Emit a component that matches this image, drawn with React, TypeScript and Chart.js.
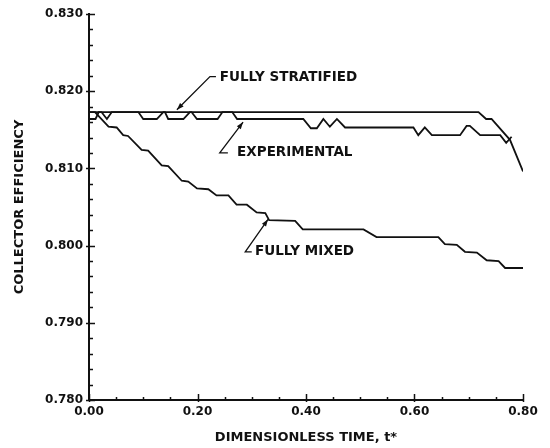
import React, { useEffect, useRef } from "react";
import { Chart, registerables } from "chart.js";

Chart.register(...registerables);

// ---- data ----
const stratifiedT = [0, 0.718, 0.732, 0.742, 0.776, 0.8];
const stratifiedV = [0.8173, 0.8173, 0.8164, 0.8164, 0.8137, 0.8096];

const experimentalT = [
  0, 0.012, 0.018, 0.023, 0.033, 0.042, 0.091, 0.1, 0.125, 0.137, 0.14, 0.146,
  0.174, 0.186, 0.189, 0.199, 0.237, 0.246, 0.264, 0.273, 0.395, 0.409, 0.42,
  0.432, 0.444, 0.457, 0.472, 0.598, 0.607, 0.619, 0.632, 0.684, 0.696, 0.702,
  0.721, 0.758, 0.769, 0.779,
];
const experimentalV = [
  0.8164, 0.8164, 0.8173, 0.8173, 0.8164, 0.8173, 0.8173, 0.8164, 0.8164,
  0.8173, 0.8173, 0.8164, 0.8164, 0.8173, 0.8173, 0.8164, 0.8164, 0.8173,
  0.8173, 0.8164, 0.8164, 0.8152, 0.8152, 0.8164, 0.8154, 0.8164, 0.8153,
  0.8153, 0.8143, 0.8153, 0.8143, 0.8143, 0.8155, 0.8155, 0.8143, 0.8143,
  0.8133, 0.8141,
];

const mixedT = [
  0, 0.011, 0.036, 0.051, 0.063, 0.072, 0.097, 0.109, 0.134, 0.146, 0.171,
  0.183, 0.199, 0.22, 0.235, 0.257, 0.272, 0.291, 0.309, 0.325, 0.332, 0.38,
  0.394, 0.506, 0.53, 0.644, 0.656, 0.678, 0.693, 0.715, 0.733, 0.755, 0.767,
  0.8,
];
const mixedV = [
  0.8173, 0.8173, 0.8154, 0.8153, 0.8143, 0.8142, 0.8124, 0.8123, 0.8104,
  0.8103, 0.8084, 0.8083, 0.8074, 0.8073, 0.8065, 0.8065, 0.8053, 0.8053,
  0.8043, 0.8042, 0.8033, 0.8032, 0.8021, 0.8021, 0.8011, 0.8011, 0.8002,
  0.8001, 0.7992, 0.7991, 0.7981, 0.798, 0.7971, 0.7971,
];

const xMajorTicks = [0, 0.2, 0.4, 0.6, 0.8];
const xMinorTicks = [0.05, 0.1, 0.15, 0.25, 0.3, 0.35, 0.45, 0.5, 0.55, 0.65, 0.7, 0.75];
const yMajorTicks = [0.78, 0.79, 0.8, 0.81, 0.82, 0.83];
const yMinorTicks = [
  0.782, 0.784, 0.786, 0.788, 0.792, 0.794, 0.796, 0.798, 0.802, 0.804, 0.806,
  0.808, 0.812, 0.814, 0.816, 0.818, 0.822, 0.824, 0.826, 0.828,
];

// callout labels: text anchor and leader (end of short dash, corner, arrow tip), in data units
const calloutTexts = ["FULLY STRATIFIED", "EXPERIMENTAL", "FULLY MIXED"];
const calloutTextAt = [
  [0.241, 0.8218],
  [0.273, 0.812],
  [0.306, 0.7992],
];
const calloutLeaders = [
  [[0.234, 0.8219], [0.223, 0.8219], [0.162, 0.8176]],
  [[0.256, 0.812], [0.241, 0.812], [0.284, 0.8160]],
  [[0.3, 0.7992], [0.288, 0.7992], [0.33, 0.8034]],
];

const INK = "#111";
const FONT = "'DejaVu Sans', sans-serif";

const pts = (t: number[], v: number[]) => t.map((x, i) => ({ x, y: v[i] }));

const decorPlugin = {
  id: "decor",
  afterDatasetsDraw(chart: any) {
    const { ctx, scales } = chart;
    const xs = scales.x;
    const ys = scales.y;
    const x0 = xs.getPixelForValue(0);
    const y0 = ys.getPixelForValue(0.78);
    ctx.save();
    ctx.strokeStyle = INK;
    ctx.lineWidth = 1.5;
    ctx.beginPath();
    yMajorTicks.forEach((v) => {
      const y = Math.round(ys.getPixelForValue(v)) + 0.5;
      ctx.moveTo(x0 - 3, y);
      ctx.lineTo(x0 + 6, y);
    });
    yMinorTicks.forEach((v) => {
      const y = Math.round(ys.getPixelForValue(v)) + 0.5;
      ctx.moveTo(x0, y);
      ctx.lineTo(x0 + 4, y);
    });
    xMajorTicks.forEach((t) => {
      const x = Math.round(xs.getPixelForValue(t)) + 0.5;
      ctx.moveTo(x, y0 + 2);
      ctx.lineTo(x, y0 - 6);
    });
    xMinorTicks.forEach((t) => {
      const x = Math.round(xs.getPixelForValue(t)) + 0.5;
      ctx.moveTo(x, y0);
      ctx.lineTo(x, y0 - 3);
    });
    ctx.stroke();

    ctx.lineWidth = 1.3;
    ctx.fillStyle = INK;
    ctx.font = `bold 13.5px ${FONT}`;
    ctx.textAlign = "left";
    ctx.textBaseline = "middle";
    calloutTexts.forEach((txt, i) => {
      const [tx, tv] = calloutTextAt[i];
      ctx.fillText(txt, xs.getPixelForValue(tx), ys.getPixelForValue(tv));
      const p = calloutLeaders[i].map(([a, b]) => [xs.getPixelForValue(a), ys.getPixelForValue(b)]);
      ctx.beginPath();
      ctx.moveTo(p[0][0], p[0][1]);
      ctx.lineTo(p[1][0], p[1][1]);
      ctx.lineTo(p[2][0], p[2][1]);
      ctx.stroke();
      const ang = Math.atan2(p[2][1] - p[1][1], p[2][0] - p[1][0]);
      const L = 7;
      const W = 2.5;
      const bx = p[2][0] - L * Math.cos(ang);
      const by = p[2][1] - L * Math.sin(ang);
      ctx.beginPath();
      ctx.moveTo(p[2][0], p[2][1]);
      ctx.lineTo(bx - W * Math.sin(ang), by + W * Math.cos(ang));
      ctx.lineTo(bx + W * Math.sin(ang), by - W * Math.cos(ang));
      ctx.closePath();
      ctx.fill();
    });
    ctx.restore();
  },
};

export default function App() {
  const ref = useRef<HTMLCanvasElement | null>(null);
  useEffect(() => {
    if (!ref.current) return;
    const lineDs = (label: string, data: any[]) => ({
      label,
      data,
      borderColor: INK,
      borderWidth: 1.8,
      pointRadius: 0,
      tension: 0,
      fill: false,
    });
    const chart = new Chart(ref.current, {
      type: "line",
      data: {
        datasets: [
          lineDs("Fully stratified", pts(stratifiedT, stratifiedV)),
          lineDs("Experimental", pts(experimentalT, experimentalV)),
          lineDs("Fully mixed", pts(mixedT, mixedV)),
        ],
      },
      options: {
        animation: false,
        responsive: true,
        maintainAspectRatio: false,
        layout: { padding: { top: 14, right: 27, bottom: 0, left: 0 } },
        plugins: { legend: { display: false }, tooltip: { enabled: false } },
        scales: {
          x: {
            type: "linear",
            min: 0,
            max: 0.8,
            grid: { display: false, drawTicks: false },
            border: { display: true, color: INK, width: 2 },
            afterFit: (s: any) => {
              s.height = 48;
            },
            ticks: {
              stepSize: 0.2,
              color: INK,
              padding: 5,
              maxRotation: 0,
              font: { family: FONT, weight: "bold", size: 12 },
              callback: (v: any) => Number(v).toFixed(2),
            },
            title: {
              display: true,
              text: "DIMENSIONLESS TIME, t*",
              color: INK,
              padding: { top: 0, bottom: 3 },
              font: { family: FONT, weight: "bold", size: 13 },
            },
          },
          y: {
            type: "linear",
            min: 0.78,
            max: 0.83,
            grid: { display: false, drawTicks: false },
            border: { display: true, color: INK, width: 2 },
            afterFit: (s: any) => {
              s.width = 89;
            },
            ticks: {
              stepSize: 0.01,
              color: INK,
              padding: 6,
              font: { family: FONT, weight: "bold", size: 12 },
              callback: (v: any) => Number(v).toFixed(3),
            },
            title: {
              display: true,
              text: "COLLECTOR EFFICIENCY",
              color: INK,
              padding: { top: 12, bottom: 0 },
              font: { family: FONT, weight: "bold", size: 13 },
            },
          },
        },
      },
      plugins: [decorPlugin],
    });
    return () => chart.destroy();
  }, []);
  return (
    <div style={{ position: "fixed", left: 0, top: 0, width: 550, height: 448, background: "#fff" }}>
      <canvas ref={ref} />
    </div>
  );
}
